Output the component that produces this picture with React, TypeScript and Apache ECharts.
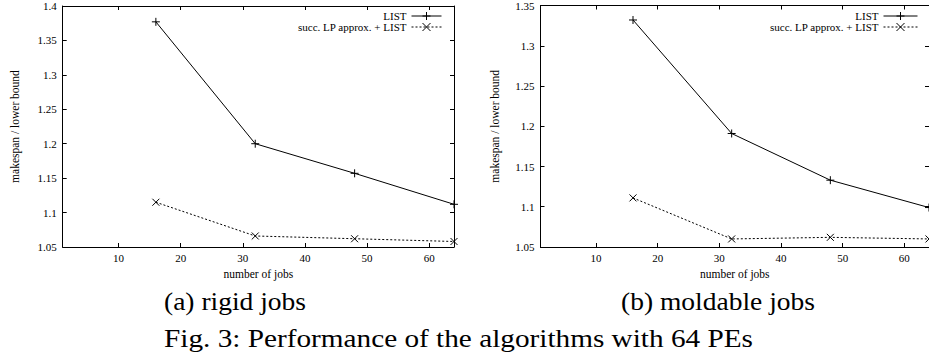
import React, { useEffect, useRef } from 'react';
import * as echarts from 'echarts';

// ---- data ----
const jobCounts = [16, 32, 48, 64];
const rigidList = [1.377, 1.2, 1.157, 1.112];
const rigidLP = [1.115, 1.066, 1.062, 1.058];
const moldList = [1.332, 1.191, 1.133, 1.099];
const moldLP = [1.111, 1.06, 1.062, 1.06];
const xTickValues = [10, 20, 30, 40, 50, 60];
const seriesNames = ['LIST', 'succ. LP approx. + LIST'];
const xAxisTitle = 'number of jobs';
const yAxisTitle = 'makespan / lower bound';
const subCaptions = ['(a) rigid jobs', '(b) moldable jobs'];
const figCaption = 'Fig. 3: Performance of the algorithms with 64 PEs';
const yMaxes = [1.4, 1.35];

const FONT = '"Liberation Serif", "DejaVu Serif", serif';
const PLUS = 'path://M0,5L10,5M5,0L5,10';
const CROSS = 'path://M0,0L10,10M10,0L0,10';

const grids = [
  { left: 62.7, top: 6, width: 391.3, height: 241 },
  { left: 540.5, top: 5.5, width: 391, height: 241.5 },
];

function buildOption() {
  const xAxes: any[] = [];
  const yAxes: any[] = [];
  const series: any[] = [];
  const lineCol = '#000';
  [0, 1].forEach((g) => {
    xAxes.push({
      type: 'value', gridIndex: g, min: 1, max: 64, position: 'bottom',
      axisLine: { show: true, onZero: false, lineStyle: { color: lineCol, width: 1 } },
      axisTick: { show: true, inside: true, length: 4, customValues: xTickValues, lineStyle: { color: lineCol } },
      axisLabel: { customValues: xTickValues, color: '#000', fontFamily: FONT, fontSize: 11, margin: 5 },
      splitLine: { show: false },
      name: xAxisTitle, nameLocation: 'middle', nameGap: 20,
      nameTextStyle: { color: '#000', fontFamily: FONT, fontSize: 11.5 },
    });
    xAxes.push({
      type: 'value', gridIndex: g, min: 1, max: 64, position: 'top',
      axisLine: { show: true, onZero: false, lineStyle: { color: lineCol, width: 1 } },
      axisTick: { show: true, inside: true, length: 4, customValues: xTickValues, lineStyle: { color: lineCol } },
      axisLabel: { show: false },
      splitLine: { show: false },
    });
    yAxes.push({
      type: 'value', gridIndex: g, min: 1.05, max: yMaxes[g], interval: 0.05, position: 'left',
      axisLine: { show: true, onZero: false, lineStyle: { color: lineCol, width: 1 } },
      axisTick: { show: true, inside: true, length: 4, lineStyle: { color: lineCol } },
      axisLabel: { color: '#000', fontFamily: FONT, fontSize: 11, margin: 6 },
      splitLine: { show: false },
      name: yAxisTitle, nameLocation: 'middle', nameGap: g === 0 ? 42 : 39.5, nameRotate: 90,
      nameTextStyle: { color: '#000', fontFamily: FONT, fontSize: 11.5 },
    });
    yAxes.push({
      type: 'value', gridIndex: g, min: 1.05, max: yMaxes[g], interval: 0.05, position: 'right',
      axisLine: { show: true, onZero: false, lineStyle: { color: lineCol, width: 1 } },
      axisTick: { show: true, inside: true, length: 4, lineStyle: { color: lineCol } },
      axisLabel: { show: false },
      splitLine: { show: false },
    });
    const listVals = g === 0 ? rigidList : moldList;
    const lpVals = g === 0 ? rigidLP : moldLP;
    series.push({
      type: 'line', name: seriesNames[0], xAxisIndex: g * 2, yAxisIndex: g * 2,
      data: jobCounts.map((x, i) => [x, listVals[i]]),
      symbol: PLUS, symbolSize: 8, clip: false,
      color: '#000',
      lineStyle: { color: '#000', width: 1, type: 'solid' },
      itemStyle: { color: '#000', borderColor: '#000', borderWidth: 1 },
    });
    series.push({
      type: 'line', name: seriesNames[1], xAxisIndex: g * 2, yAxisIndex: g * 2,
      data: jobCounts.map((x, i) => [x, lpVals[i]]),
      symbol: CROSS, symbolSize: 7, clip: false,
      color: '#000',
      lineStyle: { color: '#000', width: 1, type: [2, 2] },
      itemStyle: { color: '#000', borderColor: '#000', borderWidth: 1 },
    });
  });

  const legendBase = {
    data: seriesNames, orient: 'vertical', align: 'right', top: 10.5,
    itemWidth: 30, itemHeight: 10, itemGap: 0, padding: 0, selectedMode: false,
    lineStyle: { width: 1 },
    itemStyle: { borderWidth: 1 },
    textStyle: { color: '#000', fontFamily: FONT, fontSize: 11, lineHeight: 11 },
  };

  return {
    animation: false,
    backgroundColor: '#fff',
    grid: grids.map((g) => ({ ...g, containLabel: false })),
    xAxis: xAxes,
    yAxis: yAxes,
    series,
    legend: [
      { ...legendBase, right: 929 - 442 },
      { ...legendBase, right: 11, itemWidth: 34 },
    ],
  };
}

const capStyle: React.CSSProperties = {
  position: 'absolute', fontFamily: FONT, fontSize: 25, lineHeight: '25px', color: '#000',
  whiteSpace: 'nowrap', transformOrigin: '0 50%',
};

export default function App() {
  const ref = useRef<HTMLDivElement>(null);
  useEffect(() => {
    if (!ref.current) return;
    const chart = echarts.init(ref.current, undefined, { renderer: 'svg' });
    chart.setOption(buildOption() as any);
    return () => chart.dispose();
  }, []);
  return (
    <div style={{ position: 'fixed', left: 0, top: 0, width: 929, height: 358, overflow: 'hidden', background: '#fff' }}>
      <div ref={ref} style={{ width: 929, height: 358 }} />
      <div style={{ ...capStyle, left: 164, top: 288.5, transform: 'scaleX(1.1)' }}>{subCaptions[0]}</div>
      <div style={{ ...capStyle, left: 621, top: 288.5, transform: 'scaleX(1.1)' }}>{subCaptions[1]}</div>
      <div style={{ ...capStyle, left: 164, top: 325.5, transform: 'scaleX(1.17)' }}>{figCaption}</div>
    </div>
  );
}
